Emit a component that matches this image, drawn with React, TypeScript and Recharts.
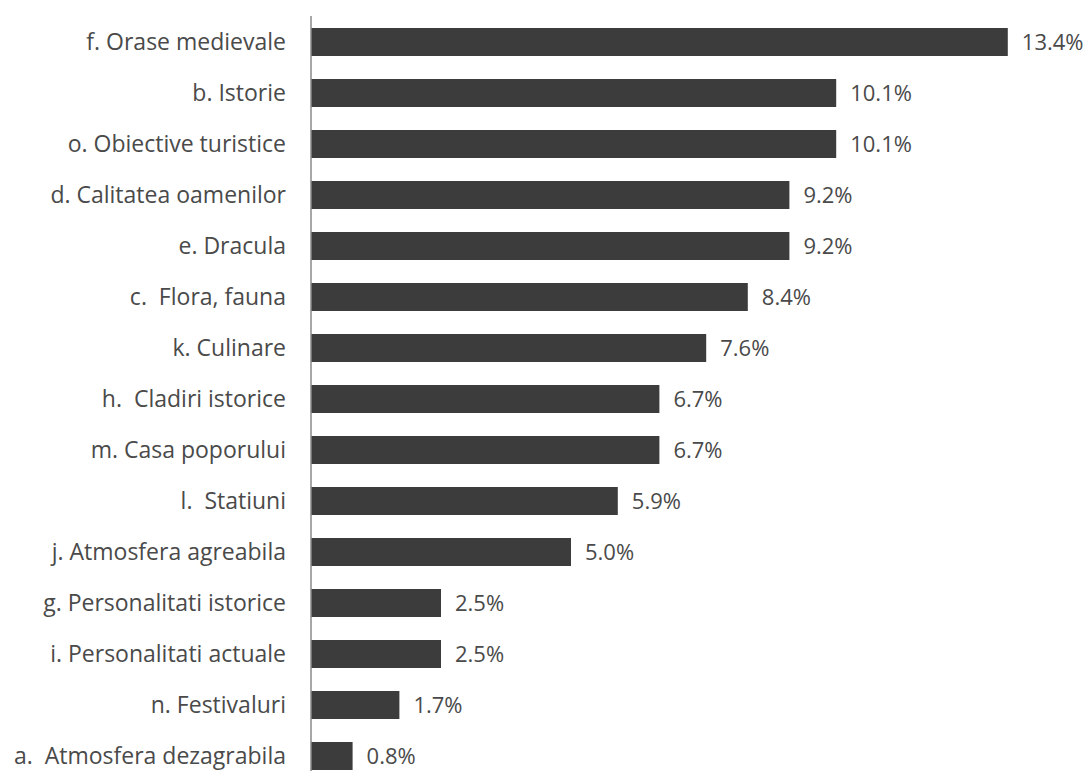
import React from "react";
import { BarChart, Bar, XAxis, YAxis, LabelList } from "recharts";

const categories = [
  "f. Orase medievale",
  "b. Istorie",
  "o. Obiective turistice",
  "d. Calitatea oamenilor",
  "e. Dracula",
  "c.\u00A0 Flora, fauna",
  "k. Culinare",
  "h.\u00A0 Cladiri istorice",
  "m. Casa poporului",
  "l.\u00A0 Statiuni",
  "j. Atmosfera agreabila",
  "g. Personalitati istorice",
  "i. Personalitati actuale",
  "n. Festivaluri",
  "a.\u00A0 Atmosfera dezagrabila",
];
const values = [13.4, 10.1, 10.1, 9.2, 9.2, 8.4, 7.6, 6.7, 6.7, 5.9, 5.0, 2.5, 2.5, 1.7, 0.8];

const data = categories.map((name, i) => ({ name, value: values[i] }));

const FONT = "'Open Sans', sans-serif";

export default function App() {
  return (
    <div style={{ position: "absolute", left: 0, top: 0, width: 1092, height: 771, overflow: "hidden", background: "#fff" }}>
      <BarChart
        width={1092}
        height={782}
        data={data}
        layout="vertical"
        margin={{ top: 16, right: 1, bottom: 1, left: 0 }}
        barCategoryGap={0}
      >
        <XAxis type="number" domain={[0, 15]} hide />
        <YAxis
          type="category"
          dataKey="name"
          width={311}
          axisLine={{ stroke: "#8a8a8a", strokeWidth: 1.5 }}
          tickLine={false}
          tickSize={0}
          tickMargin={25}
          interval={0}
          tick={{ fill: "#4a4a4a", fontSize: 23, fontFamily: FONT }}
        />
        <Bar dataKey="value" fill="#3c3c3c" barSize={28} isAnimationActive={false}>
          <LabelList
            dataKey="value"
            position="right"
            offset={14}
            formatter={(v: number) => `${v.toFixed(1)}%`}
            style={{ fill: "#4a4a4a", fontSize: 22, fontFamily: FONT }}
          />
        </Bar>
      </BarChart>
    </div>
  );
}
